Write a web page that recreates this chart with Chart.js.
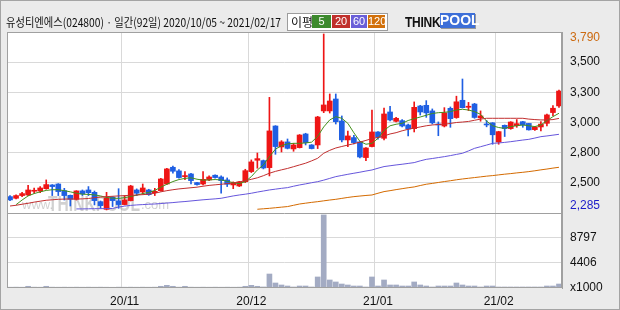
<!DOCTYPE html>
<html>
<head>
<meta charset="utf-8">
<script src="https://cdn.jsdelivr.net/npm/chart.js@4.4.1/dist/chart.umd.min.js"></script>
<style>
  html, body { margin: 0; padding: 0; background: #ebebeb; }
  #wrap { position: relative; width: 620px; height: 310px; overflow: hidden; background: #ebebeb; }
  #frame { position: absolute; left: 0; top: 0; width: 618px; height: 308px; border: 1px solid #a4a4a4; pointer-events: none; }
  canvas { position: absolute; left: 0; top: 0; }
  #title { position: absolute; left: 6px; top: 14px; font: 12px "Noto Sans CJK KR", sans-serif; color: #111; white-space: nowrap; transform-origin: 0 0; line-height: 16px; }
  #legend { position: absolute; left: 287px; top: 13px; width: 99px; height: 16px; background: #fff; border: 1px solid #9c9c9c; font: 12px "Noto Sans CJK KR", sans-serif; color: #111; }
  #legend .lbl { position: absolute; left: 3px; top: 0; line-height: 16px; }
  #legend .box { position: absolute; top: 1px; height: 13px; line-height: 13px; color: #fff; text-align: center; font: 11px "Liberation Sans", sans-serif; }
  #logo { position: absolute; left: 405px; top: 13px; height: 16px; white-space: nowrap; font: bold 15px "Liberation Sans", sans-serif; }
  #logo .think { display: inline-block; color: #111; transform: scaleX(0.8); transform-origin: 0 0; letter-spacing: -0.3px; line-height: 16px; }
  #logo .pool { position: absolute; left: 35px; top: 0; width: 35px; height: 15px; line-height: 15px; background: #3d6fd8; color: #fff; text-align: center; box-shadow: 1px 1px 0 #999; font-size: 14px; }
</style>
</head>
<body>
<div id="wrap">
  <canvas id="stock-chart" width="620" height="310"></canvas>
  <div id="title">유성티엔에스(024800) · 일간(92일) 2020/10/05 ~ 2021/02/17</div>
  <div id="legend">
    <span class="lbl">이평</span>
    <span class="box" style="left:24px;width:19px;background:#3d8a2e">5</span>
    <span class="box" style="left:44px;width:18px;background:#c0302c">20</span>
    <span class="box" style="left:63px;width:16px;background:#6a5fd8">60</span>
    <span class="box" style="left:80px;width:17px;background:#d2700a">120</span>
  </div>
  <div id="logo"><span class="think">THINK</span><span class="pool">POOL</span></div>
  <div id="frame"></div>
</div>
<script>
const dates = [
  "2020-10-05","2020-10-06","2020-10-07","2020-10-08","2020-10-12","2020-10-13","2020-10-14","2020-10-15","2020-10-16","2020-10-19",
  "2020-10-20","2020-10-21","2020-10-22","2020-10-23","2020-10-26","2020-10-27","2020-10-28","2020-10-29","2020-10-30",
  "2020-11-02","2020-11-03","2020-11-04","2020-11-05","2020-11-06","2020-11-09","2020-11-10","2020-11-11","2020-11-12","2020-11-13",
  "2020-11-16","2020-11-17","2020-11-18","2020-11-19","2020-11-20","2020-11-23","2020-11-24","2020-11-25","2020-11-26","2020-11-27","2020-11-30",
  "2020-12-01","2020-12-02","2020-12-03","2020-12-04","2020-12-07","2020-12-08","2020-12-09","2020-12-10","2020-12-11","2020-12-14",
  "2020-12-15","2020-12-16","2020-12-17","2020-12-18","2020-12-21","2020-12-22","2020-12-23","2020-12-24","2020-12-28","2020-12-29","2020-12-30",
  "2021-01-04","2021-01-05","2021-01-06","2021-01-07","2021-01-08","2021-01-11","2021-01-12","2021-01-13","2021-01-14","2021-01-15",
  "2021-01-18","2021-01-19","2021-01-20","2021-01-21","2021-01-22","2021-01-25","2021-01-26","2021-01-27","2021-01-28","2021-01-29",
  "2021-02-01","2021-02-02","2021-02-03","2021-02-04","2021-02-05","2021-02-08","2021-02-09","2021-02-10","2021-02-15","2021-02-16","2021-02-17"
];

const opens = [
  2399, 2385, 2408, 2413, 2445, 2447, 2467, 2499, 2507, 2450, 2410, 2376, 2448, 2456, 2436, 2356, 2290, 2393, 2362, 2331,
  2365, 2456, 2439, 2456, 2433, 2450, 2507, 2650, 2619, 2570, 2593, 2519, 2507, 2542, 2582, 2567, 2542, 2499, 2490, 2527,
  2613, 2710, 2707, 2647, 3003, 2824, 2867, 2807, 2818, 2935, 2841, 2841, 3132, 3132, 3234, 3046, 2884, 2904, 2867, 2733,
  2827, 2952, 2898, 3123, 3043, 3049, 3012, 2980, 3174, 3180, 3132, 3017, 3003, 3154, 3075, 3223, 3163, 3191, 3072, 3018,
  3030, 2866, 3009, 2981, 3006, 3040, 3025, 2972, 2995, 3026, 3118, 3175
];
const highs = [
  2408, 2414, 2436, 2496, 2473, 2485, 2542, 2502, 2510, 2470, 2413, 2450, 2456, 2485, 2447, 2362, 2436, 2399, 2467, 2408,
  2496, 2465, 2507, 2462, 2470, 2556, 2641, 2661, 2630, 2613, 2599, 2522, 2613, 2576, 2585, 2576, 2559, 2525, 2530, 2633,
  2713, 2772, 2712, 3248, 3006, 2878, 2892, 2855, 2930, 2941, 2844, 3086, 3790, 3277, 3277, 3089, 2960, 2924, 2870, 2818,
  3139, 2955, 3157, 3171, 3077, 3057, 3020, 3209, 3180, 3220, 3149, 3038, 3160, 3166, 3258, 3405, 3205, 3197, 3132, 3050,
  3032, 2958, 3012, 3040, 3058, 3043, 3026, 3000, 3040, 3106, 3177, 3311
];
const lows = [
  2365, 2380, 2399, 2408, 2427, 2433, 2462, 2408, 2408, 2370, 2319, 2370, 2408, 2408, 2328, 2299, 2285, 2314, 2299, 2328,
  2362, 2408, 2419, 2410, 2408, 2445, 2504, 2599, 2556, 2545, 2507, 2496, 2499, 2536, 2556, 2428, 2485, 2467, 2485, 2519,
  2605, 2642, 2636, 2576, 2761, 2781, 2807, 2787, 2815, 2841, 2807, 2810, 3117, 3114, 3020, 2867, 2827, 2850, 2730, 2707,
  2824, 2890, 2884, 3046, 3037, 2995, 2918, 2952, 3097, 3077, 3020, 2920, 2995, 2992, 3069, 3157, 3135, 3069, 3044, 2996,
  2847, 2847, 2913, 2975, 2992, 2992, 2968, 2966, 2962, 3003, 3092, 3163
];
const closes = [
  2371, 2408, 2425, 2456, 2453, 2473, 2502, 2485, 2442, 2408, 2376, 2448, 2422, 2433, 2365, 2322, 2388, 2365, 2331, 2371,
  2490, 2428, 2473, 2416, 2445, 2550, 2636, 2616, 2562, 2579, 2536, 2502, 2547, 2567, 2562, 2536, 2505, 2519, 2525, 2621,
  2696, 2724, 2644, 2961, 2827, 2867, 2812, 2841, 2926, 2861, 2810, 3080, 3183, 3217, 3040, 2884, 2918, 2861, 2738, 2815,
  2952, 2906, 3106, 3055, 3069, 3003, 2978, 3163, 3123, 3115, 3030, 3012, 3115, 3066, 3210, 3160, 3172, 3076, 3089, 3012,
  2928, 2955, 2981, 3037, 3023, 3012, 2970, 2995, 3019, 3098, 3155, 3302
];
// 거래량 (천주)
const volumes = [
  140, 150, 140, 300, 150, 140, 300, 150, 140, 150, 140, 150, 140, 150, 140, 150, 140, 130, 150, 140,
  150, 140, 150, 140, 150, 300, 470, 300, 150, 300, 150, 140, 150, 140, 150, 140, 150, 140, 150, 300,
  470, 300, 180, 2460, 880, 530, 350, 176, 350, 350, 176, 1940, 12850, 1410, 1060, 700, 530, 350, 350, 176,
  1940, 350, 1410, 530, 530, 350, 350, 1060, 530, 350, 176, 350, 350, 350, 880, 530, 350, 350, 176, 350,
  350, 176, 176, 176, 176, 176, 176, 176, 176, 350, 350, 700
];

const ma5 = [
  null, 2330, 2370, 2405, 2425, 2440, 2452, 2458, 2458, 2450, 2440, 2428, 2420, 2418, 2414, 2405, 2392, 2386, 2384, 2390,
  2400, 2412, 2425, 2435, 2452, 2480, 2505, 2528, 2545, 2555, 2560, 2548, 2540, 2542, 2545, 2542, 2530, 2519, 2510, 2527,
  2570, 2627, 2670, 2741, 2805, 2835, 2850, 2855, 2855, 2858, 2865, 2915, 2995, 3055, 3083, 3069, 3026, 2945, 2872, 2847,
  2855, 2898, 2965, 3005, 3018, 3026, 3050, 3066, 3080, 3095, 3110, 3117, 3120, 3126, 3140, 3146, 3140, 3126, 3103, 3045,
  3005, 2990, 2983, 2998, 3005, 3012, 3005, 2998, 3012, 3049, 3083, 3112
];
const ma20 = [
  2319, 2325, 2334, 2342, 2352, 2360, 2368, 2372, 2376, 2378, 2379, 2378, 2380, 2383, 2390, 2395, 2399, 2402, 2405, 2408,
  2410, 2413, 2416, 2420, 2428, 2440, 2450, 2458, 2465, 2470, 2475, 2480, 2488, 2495, 2500, 2505, 2510, 2515, 2525, 2535,
  2547, 2560, 2578, 2599, 2615, 2628, 2640, 2655, 2670, 2685, 2705, 2727, 2770, 2795, 2815, 2828, 2840, 2852, 2865, 2880,
  2895, 2905, 2918, 2935, 2946, 2962, 2975, 2985, 2995, 3005, 3012, 3016, 3018, 3025, 3033, 3037, 3042, 3052, 3062, 3069,
  3069, 3069, 3069, 3069, 3069, 3069, 3062, 3058, 3055, 3055, 3058, 3068
];
const ma60 = [
  null, null, null, null, null, null, null, null, null, null, null, 2294, 2294, 2295, 2296, 2296, 2297, 2298, 2310, 2318,
  2324, 2328, 2331, 2334, 2336, 2340, 2344, 2348, 2353, 2357, 2362, 2367, 2372, 2376, 2380, 2385, 2395, 2405, 2413, 2420,
  2428, 2438, 2447, 2456, 2463, 2470, 2476, 2488, 2499, 2508, 2518, 2527, 2540, 2555, 2570, 2580, 2590, 2599, 2608, 2618,
  2627, 2642, 2656, 2663, 2670, 2676, 2683, 2690, 2705, 2718, 2725, 2733, 2741, 2750, 2760, 2770, 2790, 2812, 2826, 2840,
  2855, 2858, 2863, 2869, 2876, 2883, 2889, 2900, 2912, 2918, 2925, 2932
];
const ma120 = [
  null, null, null, null, null, null, null, null, null, null, null, null, null, null, null, null, null, null, null, null,
  null, null, null, null, null, null, null, null, null, null, null, null, null, null, null, null, null, null, null, null,
  null, 2291, 2295, 2299, 2304, 2309, 2314, 2325, 2336, 2343, 2350, 2356, 2363, 2370, 2376, 2384, 2392, 2399, 2404, 2409,
  2413, 2428, 2442, 2450, 2459, 2467, 2475, 2482, 2494, 2505, 2512, 2520, 2528, 2535, 2543, 2550, 2556, 2562, 2568, 2574,
  2579, 2585, 2591, 2596, 2602, 2607, 2613, 2620, 2628, 2635, 2643, 2650
];

const priceMin = 2259;
const priceMax = 3807;
const priceTickLabels = ["2,285", "2,500", "2,800", "3,000", "3,300", "3,500", "3,790"];
const priceTickFrac = [0.961, 5 / 6, 4 / 6, 3 / 6, 2 / 6, 1 / 6, 0.033];
const volMax = 13190;
const volTickValues = [0, 4406, 8797];
const volTickLabels = ["x1000", "4406", "8797"];

const upColor = "#ee1515";
const downColor = "#1f5fe3";
const volColor = "#a3abc3";
const gridColor = "#d9d9d9";
const frameColor = "#a0a0a0";

const monthStart = (i) => i > 0 && i < dates.length && dates[i].slice(0, 7) !== dates[i - 1].slice(0, 7);
const candleColors = closes.map((c, i) => (c >= opens[i] ? upColor : downColor));

Chart.defaults.font.family = "'Liberation Sans', Arial, sans-serif";
Chart.defaults.font.size = 12;
Chart.defaults.color = "#111";

const panelFrame = {
  id: "panelFrame",
  beforeDraw(chart) {
    const a = chart.chartArea;
    chart.ctx.save();
    chart.ctx.fillStyle = "#fff";
    chart.ctx.fillRect(a.left, a.top, a.right - a.left, a.bottom - a.top);
    chart.ctx.restore();
  },
  beforeDatasetsDraw(chart) {
    const ctx = chart.ctx;
    const a = chart.chartArea;
    ctx.save();
    ctx.fillStyle = "rgba(140,140,140,0.4)";
    ctx.textBaseline = "alphabetic";
    ctx.font = "13px 'Liberation Sans', sans-serif";
    ctx.fillText("www.", a.left + 15, 209);
    ctx.fillText(".com", a.left + 134, 209);
    ctx.font = "bold 22px 'Liberation Sans', sans-serif";
    const w = ctx.measureText("THINKPOOL").width;
    ctx.translate(a.left + 41, 211);
    ctx.scale(92 / w, 1);
    ctx.fillText("THINKPOOL", 0, 0);
    ctx.restore();
  },
  afterDraw(chart) {
    const ctx = chart.ctx;
    const a = chart.chartArea;
    const split = chart.scales.yv.top;
    ctx.save();
    ctx.strokeStyle = frameColor;
    ctx.lineWidth = 1;
    ctx.strokeRect(a.left + 0.5, a.top + 0.5, a.right - a.left - 1, a.bottom - a.top - 1);
    ctx.beginPath();
    ctx.moveTo(a.left, Math.round(split) + 0.5);
    ctx.lineTo(a.right, Math.round(split) + 0.5);
    ctx.stroke();
    ctx.restore();
  }
};

function maLine(data, color) {
  return {
    type: "line",
    data: data,
    yAxisID: "y",
    borderColor: color,
    borderWidth: 1,
    pointRadius: 0,
    tension: 0,
    order: 0
  };
}

new Chart(document.getElementById("stock-chart"), {
  type: "bar",
  data: {
    labels: dates,
    datasets: [
      maLine(ma120, "#d46a00"),
      maLine(ma60, "#6656dc"),
      maLine(ma20, "#c22f2f"),
      maLine(ma5, "#44901c"),
      {
        data: opens.map((o, i) => [o, closes[i]]),
        yAxisID: "y",
        backgroundColor: candleColors,
        barThickness: 5,
        minBarLength: 1,
        grouped: false,
        order: 1
      },
      {
        data: lows.map((l, i) => [l, highs[i]]),
        yAxisID: "y",
        backgroundColor: candleColors,
        barThickness: 1,
        grouped: false,
        order: 2
      },
      {
        data: volumes,
        yAxisID: "yv",
        backgroundColor: volColor,
        barThickness: 5,
        grouped: false,
        order: 3
      }
    ]
  },
  options: {
    responsive: false,
    animation: false,
    layout: { padding: { left: 7, top: 32, right: 0, bottom: 0 } },
    plugins: { legend: { display: false }, tooltip: { enabled: false } },
    scales: {
      x: {
        offset: true,
        grid: {
          offset: true,
          drawTicks: false,
          color: (ctx) => (monthStart(ctx.index) ? gridColor : "rgba(0,0,0,0)")
        },
        border: { display: false },
        ticks: {
          autoSkip: false,
          maxRotation: 0,
          padding: 6,
          callback: (v, i) => (monthStart(i) ? dates[i].slice(2, 4) + "/" + dates[i].slice(5, 7) : "")
        },
        afterFit: (scale) => { scale.height = 22; }
      },
      y: {
        position: "right",
        stack: "panels",
        stackWeight: 181,
        min: priceMin,
        max: priceMax,
        afterBuildTicks: (scale) => {
          scale.ticks = priceTickFrac.map((f) => ({ value: priceMax - f * (priceMax - priceMin) }));
        },
        grid: {
          drawTicks: false,
          color: (ctx) => (ctx.index > 0 && ctx.index < 6 ? gridColor : "rgba(0,0,0,0)")
        },
        border: { color: frameColor },
        ticks: {
          autoSkip: false,
          padding: 8,
          color: (ctx) => (ctx.index === 6 ? "#cc6a10" : ctx.index === 0 ? "#1c1cc8" : "#111"),
          callback: (v, i) => priceTickLabels[i]
        },
        afterFit: (scale) => { scale.width = 58; }
      },
      yv: {
        position: "right",
        stack: "panels",
        stackWeight: 75,
        min: 0,
        max: volMax,
        afterBuildTicks: (scale) => {
          scale.ticks = volTickValues.map((v) => ({ value: v }));
        },
        grid: {
          drawTicks: false,
          color: (ctx) => (ctx.index > 0 ? gridColor : "rgba(0,0,0,0)")
        },
        border: { color: frameColor },
        ticks: {
          autoSkip: false,
          padding: 8,
          callback: (v, i) => volTickLabels[i]
        },
        afterFit: (scale) => { scale.width = 58; }
      }
    }
  },
  plugins: [panelFrame]
});

const title = document.getElementById("title");
title.style.transform = "scaleX(" + (275 / title.offsetWidth) + ")";
</script>
</body>
</html>
